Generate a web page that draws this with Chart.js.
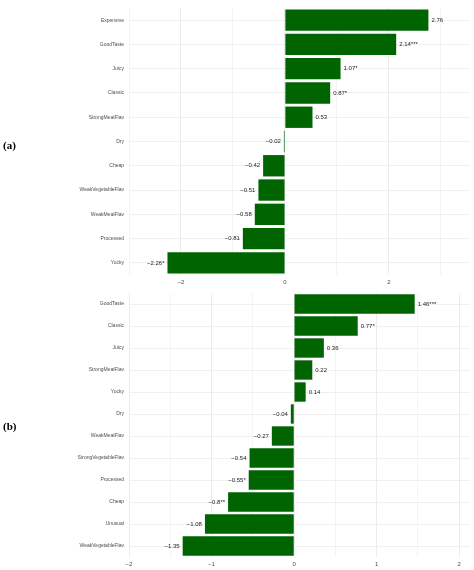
<!DOCTYPE html>
<html>
<head>
<meta charset="utf-8">
<script src="https://cdn.jsdelivr.net/npm/chart.js@4"></script>
<style>
  body { margin: 0; background: #fff; width: 474px; height: 570px; position: relative; overflow: hidden; }
  canvas { position: absolute; left: 0; }
  .panel { position: absolute; left: 3px; font: bold 11px "Liberation Serif", "DejaVu Serif", serif; color: #000; }
</style>
</head>
<body>
<canvas id="chartA" width="474" height="288" style="top:0"></canvas>
<canvas id="chartB" width="474" height="285" style="top:285px"></canvas>
<div class="panel" style="top:139px">(a)</div>
<div class="panel" style="top:420px">(b)</div>
<script>
// panel (a)
const catsA = ["Expensive", "GoodTaste", "Juicy", "Classic", "StrongMeatFlav", "Dry", "Cheap",
    "WeakVegetableFlav", "WeakMeatFlav", "Processed", "Yucky"];
const valsA = [2.76, 2.14, 1.07, 0.87, 0.53, -0.02, -0.42, -0.51, -0.58, -0.81, -2.26];
const sigA = ["", "***", "*", "*", "", "", "", "", "", "", "*"];
const ticksA = [-3, -2, -1, 0, 1, 2, 3];
const labelTicksA = [-2, 0, 2];

// panel (b)
const catsB = ["GoodTaste", "Classic", "Juicy", "StrongMeatFlav", "Yucky", "Dry", "WeakMeatFlav",
    "StrongVegetableFlav", "Processed", "Cheap", "Unusual", "WeakVegetableFlav"];
const valsB = [1.46, 0.77, 0.36, 0.22, 0.14, -0.04, -0.27, -0.54, -0.55, -0.8, -1.08, -1.35];
const sigB = ["***", "*", "", "", "", "", "", "", "*", "**", "", ""];
const ticksB = [-2, -1.5, -1, -0.5, 0, 0.5, 1, 1.5, 2];
const labelTicksB = [-2, -1, 0, 1, 2];

function fmt(v) {
    return String(v).replace("-", "\u2212");
}

// draws the value + stars next to each bar end
const valueLabels = {
    id: "valueLabels",
    afterDatasetsDraw(chart) {
        const ctx = chart.ctx;
        const meta = chart.getDatasetMeta(0);
        const ds = chart.data.datasets[0];
        ctx.save();
        ctx.font = "6px 'Liberation Sans', Arial, sans-serif";
        ctx.fillStyle = "#222";
        ctx.textBaseline = "middle";
        meta.data.forEach((bar, i) => {
            const v = ds.data[i];
            const txt = fmt(v) + ds.stars[i];
            if (v >= 0) {
                ctx.textAlign = "left";
                ctx.fillText(txt, bar.x + 3, bar.y);
            } else {
                ctx.textAlign = "right";
                ctx.fillText(txt, bar.x - 3, bar.y);
            }
        });
        ctx.restore();
    }
};

function makeChart(id, cats, vals, stars, min, max, tickVals, labelVals, padTop, axisH) {
    const ctx = document.getElementById(id).getContext("2d");
    return new Chart(ctx, {
        type: "bar",
        data: {
            labels: cats,
            datasets: [{
                data: vals,
                stars: stars,
                backgroundColor: "#006400",
                borderWidth: 0,
                barPercentage: 0.88,
                categoryPercentage: 1
            }]
        },
        options: {
            indexAxis: "y",
            responsive: false,
            animation: false,
            layout: { padding: { top: padTop, right: 4, left: 0, bottom: 0 } },
            plugins: { legend: { display: false }, tooltip: { enabled: false } },
            scales: {
                x: {
                    min: min,
                    max: max,
                    afterBuildTicks: (scale) => { scale.ticks = tickVals.map(v => ({ value: v })); },
                    afterFit: (scale) => { scale.height = axisH; },
                    border: { display: false },
                    grid: {
                        color: (c) => labelVals.includes(c.tick.value) ? "#e6e6e6" : "#f1f1f1",
                        lineWidth: 0.8,
                        drawTicks: false
                    },
                    ticks: {
                        autoSkip: false,
                        maxRotation: 0,
                        padding: 4,
                        color: "#4d4d4d",
                        font: { family: "'Liberation Sans', Arial, sans-serif", size: 6 },
                        callback: (v) => labelVals.includes(v) ? fmt(v) : ""
                    }
                },
                y: {
                    afterFit: (scale) => { scale.width = 129; },
                    border: { display: false },
                    grid: { offset: false, color: "#ececec", lineWidth: 0.8, drawTicks: false },
                    ticks: {
                        autoSkip: false,
                        padding: 5,
                        color: "#4d4d4d",
                        font: { family: "'Liberation Sans', Arial, sans-serif", size: 5 }
                    }
                }
            }
        },
        plugins: [valueLabels]
    });
}

makeChart("chartA", catsA, valsA, sigA, -3.0, 3.56, ticksA, labelTicksA, 7, 13);
makeChart("chartB", catsB, valsB, sigB, -2.0, 2.13, ticksB, labelTicksB, 4.5, 13);
</script>
</body>
</html>
